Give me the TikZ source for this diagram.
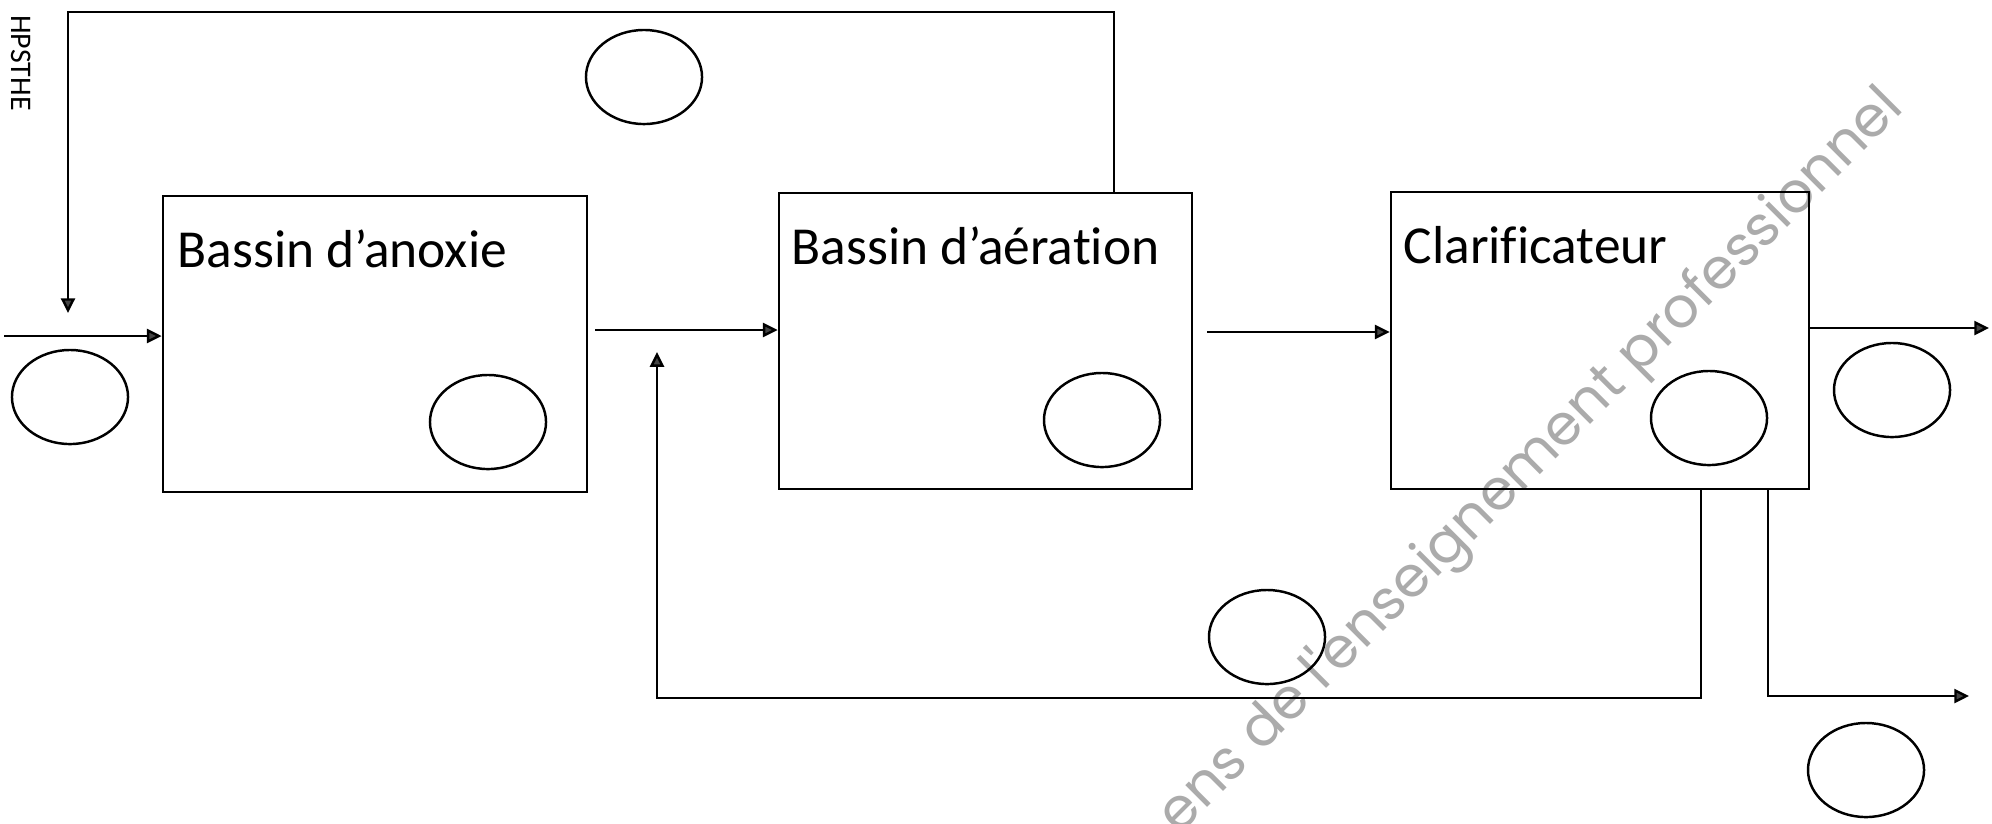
\documentclass[tikz,border=0pt]{standalone}
\usepackage{fontspec}
\setmainfont{Carlito}[Ligatures=NoCommon]
\newfontfamily\wmfont{Poppins}
\usetikzlibrary{arrows.meta,shapes.geometric}
\definecolor{arrowgray}{HTML}{444444}
\definecolor{wmgray}{HTML}{ABABAB}
\tikzset{
  line/.style={line width=0.7pt, draw=black},
  arr/.style={line, -{Triangle[length=4.2pt,width=4pt,fill=arrowgray]}},
  box/.style={line, rectangle, inner sep=0pt},
  blank/.style={line, ellipse, minimum width=1.16cm, minimum height=0.94cm, inner sep=0pt},
  title/.style={anchor=base west, inner sep=0pt, font=\fontsize{15.2}{18}\selectfont},
}
\begin{document}
\begin{tikzpicture}[x=0.01cm, y=-0.01cm]
\useasboundingbox (0,0) rectangle (1992,823);
% watermark
\node[rotate=45, text=wmgray, inner sep=0pt, font=\wmfont\fontsize{16}{19}\selectfont] (wm) at (1532,462) {ens de l'enseignement professionnel};
% side label
\node[rotate=-90, inner sep=0pt, font=\fontsize{8.5}{10}\selectfont] (lbl) at (21,63) {HPSTHE};
% boxes
\node[box, minimum width=4.24cm, minimum height=2.96cm] (b1) at (375,344) {};
\node[box, minimum width=4.13cm, minimum height=2.96cm] (b2) at (985.5,341) {};
\node[box, minimum width=4.18cm, minimum height=2.97cm] (b3) at (1600,340.5) {};
\node[title] (t1) at (177,267) {Bassin d’anoxie};
\node[title] (t2) at (791,264) {Bassin d’aération};
\node[title] (t3) at (1403,263) {Clarificateur};
% blank ellipses
\node[blank] (e0) at (644,77) {};
\node[blank] (e1) at (70,397) {};
\node[blank] (e2) at (488,422) {};
\node[blank] (e3) at (1102,420) {};
\node[blank] (e4) at (1709,418) {};
\node[blank] (e5) at (1892,390) {};
\node[blank] (e6) at (1267,637) {};
\node[blank] (e7) at (1866,770) {};
% coordinates for free ends
\coordinate (in) at (4,336);
\coordinate (tr) at (1114,12);
\coordinate (tl) at (68,12);
\coordinate (tlend) at (68,313);
\coordinate (a12) at (595,330);
\coordinate (a23) at (1207,332);
\coordinate (out) at (1989,328);
\coordinate (r1) at (1701,698);
\coordinate (r2) at (657,698);
\coordinate (r3) at (657,352);
\coordinate (w1) at (1768,696);
\coordinate (w2) at (1969,696);
% connectors
\draw[arr] (in) -- (in -| b1.west);
\draw[arr] (tr |- b2.north) -- (tr) -- (tl) -- (tlend);
\draw[arr] (a12) -- (a12 -| b2.west);
\draw[arr] (a23) -- (a23 -| b3.west);
\draw[arr] (out -| b3.east) -- (out);
\draw[arr] (r1 |- b3.south) -- (r1) -- (r2) -- (r3);
\draw[arr] (w1 |- b3.south) -- (w1) -- (w2);
\end{tikzpicture}
\end{document}
